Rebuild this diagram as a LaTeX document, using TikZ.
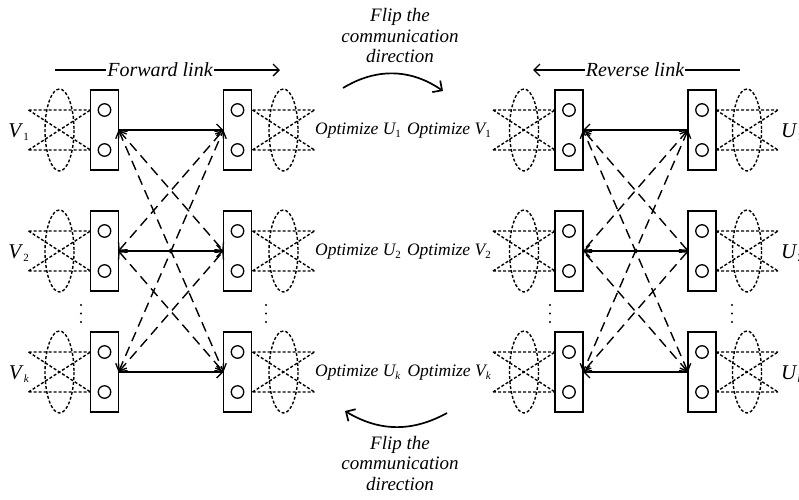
\documentclass[tikz,border=0pt]{standalone}
\usepackage{fontspec}
\setmainfont{Liberation Serif}
\usetikzlibrary{arrows.meta}
\newcommand{\lab}[2]{\textit{#1}\raisebox{-0.35ex}{\fontsize{11}{11}\selectfont\upshape #2}}
\tikzset{
  box/.style={draw, line width=1.5pt, minimum width=28pt, minimum height=80pt, inner sep=0pt, outer sep=0pt},
  port/.style={circle, draw, line width=1.3pt, minimum size=12.5pt, inner sep=0pt},
  dotline/.style={line width=1.4pt, dash pattern=on 3pt off 2pt},
  antenna/.pic={
    \draw[dotline] (-31,-20) -- (31,-20) (-31,20) -- (31,20) (-31,-20) -- (31,20) (-31,20) -- (31,-20);
    \draw[dotline] (0,0) ellipse [x radius=14.5, y radius=41];
  },
  tip/.style={-{Straight Barb[length=6pt,width=12pt,line width=1.3pt]}},
  solidarr/.style={tip, line width=1.4pt},
  dasharr/.style={{Straight Barb[length=6pt,width=12pt,line width=1.3pt]}-{Straight Barb[length=6pt,width=12pt,line width=1.3pt]}, line width=1.4pt, dash pattern=on 10pt off 6pt},
  curvearr/.style={-{Straight Barb[length=7pt,width=14pt]}, line width=1.7pt},
  vlab/.style={font=\fontsize{21}{22}\selectfont, inner sep=0pt},
  opt/.style={font=\fontsize{17.5}{19}\selectfont\itshape, inner sep=0pt},
  linklab/.style={font=\fontsize{20}{22}\selectfont\itshape, inner sep=1pt},
  flip/.style={font=\fontsize{19}{20.5}\selectfont\itshape, align=center, inner sep=0pt},
  vdot/.style={fill=black}
}
\begin{document}
\begin{tikzpicture}[x=1pt,y=-1pt]
\useasboundingbox (0,0) rectangle (799,499);
% rows
\foreach \r/\y in {1/130,2/251,k/372}{
  \node[box] (A\r) at (104.5,\y) {};
  \node[box] (B\r) at (237.5,\y) {};
  \node[box] (C\r) at (569,\y) {};
  \node[box] (D\r) at (702,\y) {};
  \foreach \n in {A,B,C,D}{
    \node[port] (\n\r t) at ([yshift=20pt]\n\r.center) {};
    \node[port] (\n\r b) at ([yshift=-20pt]\n\r.center) {};
  }
  \pic at (59.5,\y) {antenna};
  \pic at (283.5,\y) {antenna};
  \pic at (524,\y) {antenna};
  \pic at (747,\y) {antenna};
  \draw[solidarr] (A\r.east) -- (B\r.west);
  \draw[solidarr] (D\r.west) -- (C\r.east);
}
% cross links
\foreach \i/\j in {1/2,1/k,2/1,2/k,k/1,k/2}{
  \draw[dasharr] (A\i.east) -- (B\j.west);
  \draw[dasharr] (D\i.west) -- (C\j.east);
}
% vertical dots
\foreach \x in {81,266,550,732}{
  \foreach \yy in {305,313.5,322}{
    \fill[vdot] (\x,\yy) circle (1.1);
  }
}
% side labels
\node[vlab, anchor=east] (V1) at (29,132) {\lab{V}{1}};
\node[vlab, anchor=east] (V2) at (29,253) {\lab{V}{2}};
\node[vlab, anchor=east] (Vk) at (29,374) {\lab{V}{\textit{k}}};
\node[vlab, anchor=west] (U1) at (781,132) {\lab{U}{1}};
\node[vlab, anchor=west] (U2) at (781,253) {\lab{U}{2}};
\node[vlab, anchor=west] (Uk) at (781,374) {\lab{U}{\textit{k}}};
% optimize labels
\node[opt, anchor=west] (OU1) at (315,131) {Optimize \lab{U}{1}};
\node[opt, anchor=west] (OU2) at (315,252) {Optimize \lab{U}{2}};
\node[opt, anchor=west] (OUk) at (315,373) {Optimize \lab{U}{\textit{k}}};
\node[opt, anchor=east] (OV1) at (491,131) {Optimize \lab{V}{1}};
\node[opt, anchor=east] (OV2) at (491,252) {Optimize \lab{V}{2}};
\node[opt, anchor=east] (OVk) at (491,373) {Optimize \lab{V}{\textit{k}}};
% link labels
\node[linklab] (FL) at (160,70) {Forward link};
\coordinate (FLa) at (55,70);
\coordinate (FLb) at (280,70);
\draw[line width=1.4pt] (FLa) -- (FL.west);
\draw[solidarr] (FL.east) -- (FLb);
\node[linklab] (RL) at (635,70) {Reverse link};
\coordinate (RLa) at (533,70);
\coordinate (RLb) at (740,70);
\draw[solidarr] (RL.west) -- (RLa);
\draw[line width=1.4pt] (RL.east) -- (RLb);
% flip texts
\node[flip] (FT) at (400,36) {Flip the\\communication\\direction};
\node[flip] (FB) at (400,463) {Flip the\\communication\\direction};
\coordinate (c1s) at (343,88);
\coordinate (c1e) at (443,91);
\draw[curvearr] (c1s) to[bend left=33] (c1e);
\coordinate (c2s) at (447,413);
\coordinate (c2e) at (345,411);
\draw[curvearr] (c2s) to[bend left=30] (c2e);
\end{tikzpicture}
\end{document}
